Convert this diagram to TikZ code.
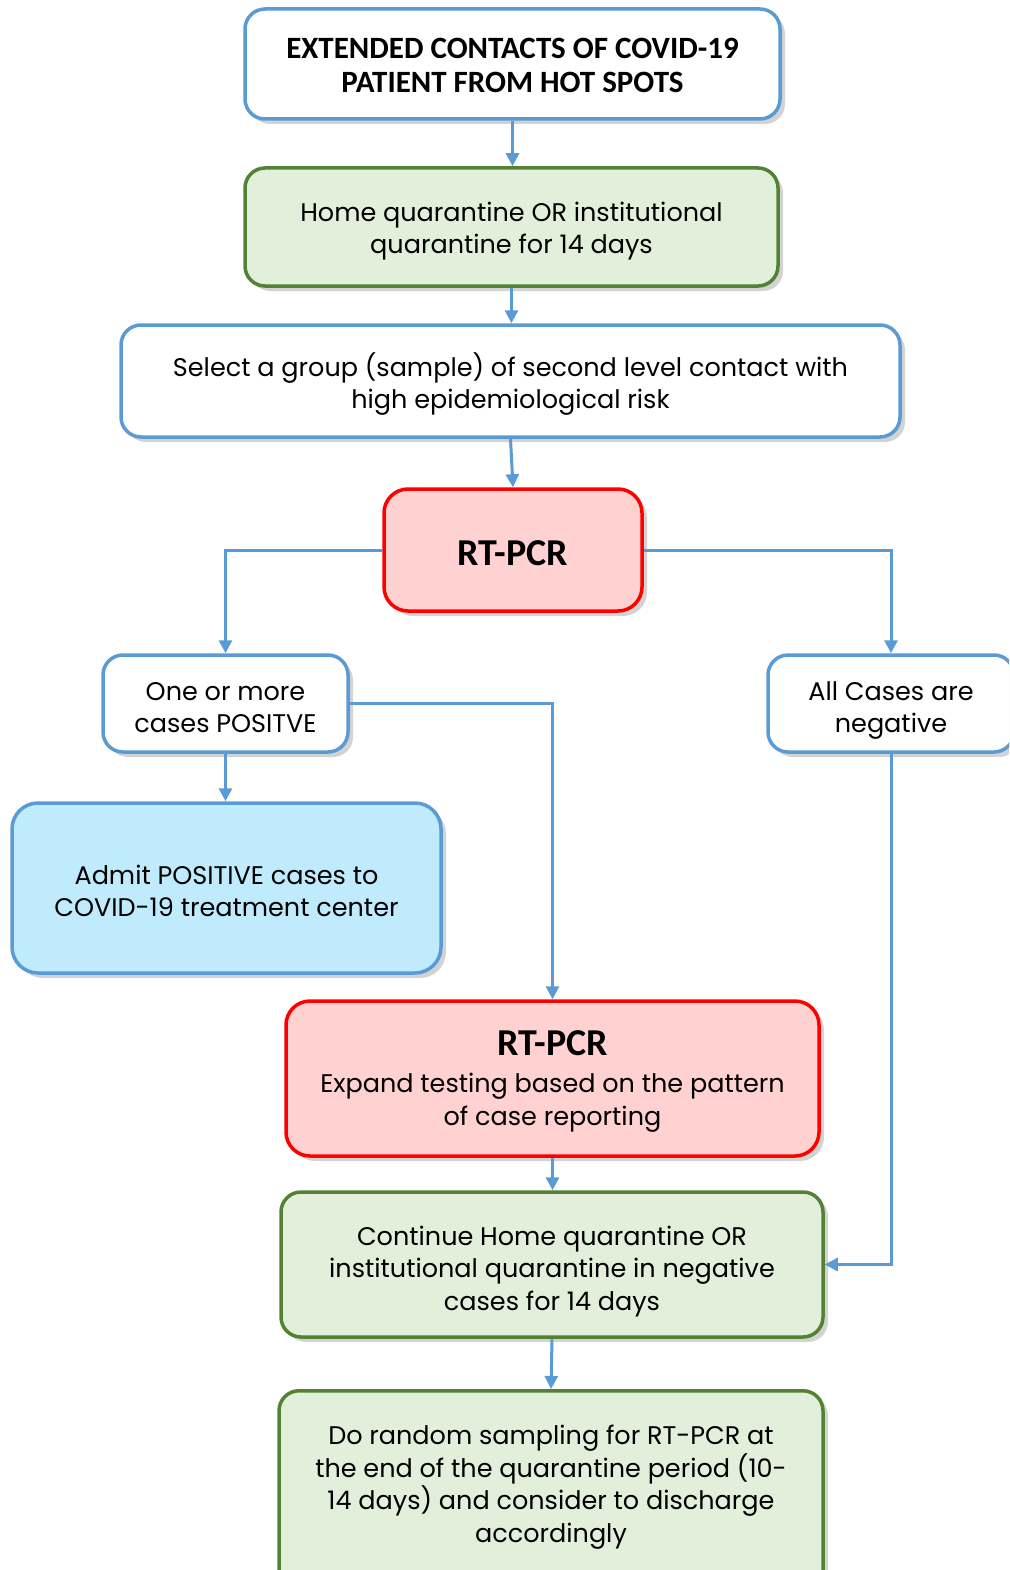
\documentclass[tikz,border=0pt]{standalone}
\usepackage{fontspec}
\setmainfont{Poppins}
\newfontfamily\boldf{Carlito}
\usetikzlibrary{arrows.meta,shadows}
\definecolor{lblue}{HTML}{5B9BD5}
\definecolor{gborder}{HTML}{548235}
\definecolor{gfill}{HTML}{E2EFDA}
\definecolor{rborder}{HTML}{FF0000}
\definecolor{rfill}{HTML}{FFD1D1}
\definecolor{cfill}{HTML}{BFEBFD}
\tikzset{
  basebox/.style={rectangle, rounded corners=20pt, line width=3.5pt,
    inner sep=0pt,
    drop shadow={opacity=0.35, shadow xshift=5pt, shadow yshift=-5pt}},
  bluebox/.style={basebox, draw=lblue, fill=white},
  greenbox/.style={basebox, draw=gborder, fill=gfill},
  redbox/.style={basebox, draw=rborder, fill=rfill, rounded corners=24pt},
  cyanbox/.style={basebox, draw=lblue, fill=cfill, rounded corners=26pt},
  txt/.style={align=center, inner sep=0pt, font=\fontsize{25.5}{32.5}\selectfont},
  btxt/.style={txt, font=\boldf\bfseries\fontsize{31}{34}\selectfont},
  conn/.style={draw=lblue, line width=3pt, -{Triangle[length=13pt,width=13pt]}},
}
\newcommand{\bigrt}{\boldf\bfseries\fontsize{38}{40}\selectfont}
\begin{document}
\begin{tikzpicture}[x=1pt,y=-1pt]
\useasboundingbox (0,0) rectangle (1009,1570);
\clip (0,0) rectangle (1009,1570);
% boxes
\node[bluebox, minimum width=535pt, minimum height=110pt] (top) at (512.5,64) {};
\node[greenbox, minimum width=533pt, minimum height=118pt] (g1) at (511.5,227) {};
\node[bluebox, minimum width=779pt, minimum height=112pt] (sel) at (510.5,381) {};
\node[redbox, minimum width=258pt, minimum height=122pt] (rt1) at (513,550) {};
\node[bluebox, minimum width=245pt, minimum height=97pt] (pos) at (225.5,703.5) {};
\node[bluebox, minimum width=246pt, minimum height=97pt] (neg) at (891,703.5) {};
\node[cyanbox, minimum width=429pt, minimum height=170pt] (adm) at (226.5,888) {};
\node[redbox, minimum width=533pt, minimum height=155pt] (rt2) at (552.5,1078.5) {};
\node[greenbox, minimum width=542pt, minimum height=145pt] (cont) at (552,1264.5) {};
\node[greenbox, minimum width=544pt, minimum height=202pt, anchor=north] (rand) at (551,1389) {};
% texts
\node[btxt] (topt) at ([yshift=-1.5pt]top.center) {EXTENDED CONTACTS OF COVID-19\\PATIENT FROM HOT SPOTS};
\node[txt] (g1t) at ([yshift=-4pt]g1.center) {Home quarantine OR institutional\\quarantine for 14 days};
\node[txt] (selt) at ([yshift=-3pt]sel.center) {Select a group (sample) of second level contact with\\high epidemiological risk};
\node[txt, font=\bigrt] (rt1t) at ([yshift=-3pt]rt1.center) {RT-PCR};
\node[txt] (post) at ([yshift=-4pt]pos.center) {One or more\\cases POSITVE};
\node[txt] (negt) at ([yshift=-7pt]neg.center) {All Cases are\\negative};
\node[txt] (admt) at ([yshift=-3pt]adm.center) {Admit POSITIVE cases to\\COVID-19 treatment center};
\node[txt, font=\fontsize{25.5}{33}\selectfont] (rt2t) at ([yshift=-3pt]rt2.center) {{\bigrt RT-PCR}\\[4pt]Expand testing based on the pattern\\of case reporting};
\node[txt] (contt) at ([yshift=-7pt]cont.center) {Continue Home quarantine OR\\institutional quarantine in negative\\cases for 14 days};
\node[txt] (randt) at (551,1487) {Do random sampling for RT-PCR at\\the end of the quarantine period (10-\\14 days) and consider to discharge\\accordingly};
% connectors
\draw[conn] (top.south) -- (top.south |- g1.north);
\draw[conn] (g1.south) -- (g1.south |- sel.north);
\draw[conn] (sel.south) -- (rt1.north);
\draw[conn] (rt1.west) -| (pos.north);
\draw[conn] (rt1.east) -| (neg.north);
\draw[conn] (pos.south) -- (pos.south |- adm.north);
\draw[conn] (pos.east) -| (rt2.north);
\draw[conn] (neg.south) |- (cont.east);
\draw[conn] (rt2.south) -- (rt2.south |- cont.north);
\draw[conn] (cont.south) -- (rand.north);
\end{tikzpicture}
\end{document}
